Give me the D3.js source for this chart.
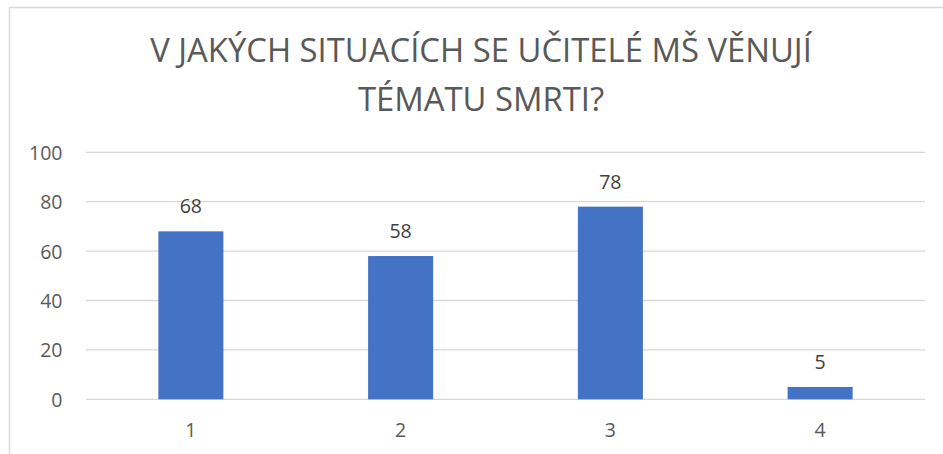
<!DOCTYPE html>
<html>
<head>
<meta charset="utf-8">
<script src="https://cdn.jsdelivr.net/npm/d3@7"></script>
<style>
  html, body { margin: 0; padding: 0; background: #fff; }
  svg { display: block; }
</style>
</head>
<body>
<script>
const categories = ["1", "2", "3", "4"];
const values = [68, 58, 78, 5];
const yTicks = [0, 20, 40, 60, 80, 100];
const titleLines = ["V JAKÝCH SITUACÍCH SE UČITELÉ MŠ VĚNUJÍ", "TÉMATU SMRTI?"];

const W = 943, H = 454;
const font = "'Open Sans', 'Noto Sans', sans-serif";
const textColor = "#595959";

const svg = d3.select("body").append("svg").attr("width", W).attr("height", H);
svg.append("rect").attr("width", W).attr("height", H).attr("fill", "#fff");

// chart border (cropped)
svg.append("rect")
  .attr("x", 9.5).attr("y", 7.5)
  .attr("width", W + 20).attr("height", H + 20)
  .attr("fill", "none").attr("stroke", "#d9d9d9").attr("stroke-width", 1.5);

const plot = { left: 86, right: 925, top: 152.3, bottom: 399.3 };

const x = d3.scaleBand().domain(categories).range([plot.left, plot.right]).paddingInner(0.69).paddingOuter(0.345);
const y = d3.scaleLinear().domain([0, 100]).range([plot.bottom, plot.top]);

// gridlines
svg.append("g").selectAll("line").data(yTicks).join("line")
  .attr("x1", plot.left).attr("x2", plot.right)
  .attr("y1", d => y(d)).attr("y2", d => y(d))
  .attr("stroke", "#d9d9d9").attr("stroke-width", 1.3);

// y axis labels
const yAxis = d3.axisLeft(y).tickValues(yTicks).tickSize(0).tickPadding(0);
const gy = svg.append("g").attr("transform", `translate(62.5,0)`).call(yAxis);
gy.select(".domain").remove();
gy.selectAll("text").attr("font-family", font).attr("font-size", 19.5).attr("fill", textColor).attr("dy", "0.36em");

// x axis labels
const xAxis = d3.axisBottom(x).tickSize(0).tickPadding(0);
const gx = svg.append("g").attr("transform", `translate(0,${plot.bottom})`).call(xAxis);
gx.select(".domain").remove();
gx.selectAll("text").attr("font-family", font).attr("font-size", 19.5).attr("fill", textColor).attr("dy", null).attr("y", 38);

// bars
svg.append("g").selectAll("rect").data(values).join("rect")
  .attr("x", (d, i) => x(categories[i]))
  .attr("width", x.bandwidth())
  .attr("y", d => y(d))
  .attr("height", d => y(0) - y(d))
  .attr("fill", "#4472c4");

// data labels
svg.append("g").selectAll("text").data(values).join("text")
  .attr("x", (d, i) => x(categories[i]) + x.bandwidth() / 2)
  .attr("y", d => y(d) - 18)
  .attr("text-anchor", "middle")
  .attr("font-family", font).attr("font-size", 19.5).attr("fill", "#404040")
  .text(d => d);

// title
const tg = svg.append("g");
const baselines = [62, 111];
const t1 = tg.append("text").attr("x", 481).attr("y", baselines[0]).attr("text-anchor", "middle")
  .attr("font-family", font).attr("font-size", 28).attr("fill", textColor).text(titleLines[0]);
const len = t1.node().getComputedTextLength();
const fs = 28 * 662 / len;
t1.attr("font-size", fs);
tg.append("text").attr("x", 481).attr("y", baselines[1]).attr("text-anchor", "middle")
  .attr("font-family", font).attr("font-size", fs).attr("fill", textColor).text(titleLines[1]);
</script>
</body>
</html>
